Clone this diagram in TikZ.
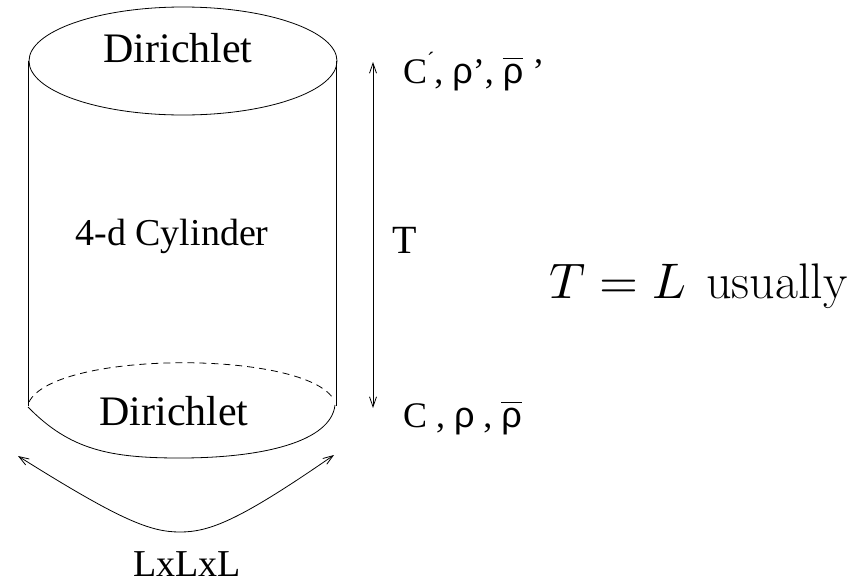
\documentclass[tikz,border=0pt]{standalone}
\usepackage{fontspec}
\usepackage{unicode-math}
\setmainfont{Liberation Serif}
\setmathfont{Latin Modern Math}
\newfontfamily\lmr{Latin Modern Roman}
\newfontfamily\symsans{Liberation Sans}
\usetikzlibrary{arrows.meta}
\begin{document}
\begin{tikzpicture}[x=1pt,y=-1pt, line width=0.8pt,
  barb/.style={{Straight Barb[length=10pt,width=7pt,line width=0.8pt]}-{Straight Barb[length=10pt,width=7pt,line width=0.8pt]}},
  lbl/.style={inner sep=0pt, outer sep=0pt},
  big/.style={lbl, font=\fontsize{42}{42}\selectfont},
  mid/.style={lbl, font=\fontsize{38}{38}\selectfont},
  small/.style={lbl, font=\fontsize{36}{36}\selectfont}]
\useasboundingbox (0,0) rectangle (864,584);
% cylinder
\draw (183,61) ellipse [x radius=154, y radius=54];
\draw (28,61) -- (28,406);
\draw (336,61) -- (336,406);
\draw[dash pattern=on 7pt off 5pt] (29,402) .. controls (55,350) and (307,350) .. (334,400);
\draw (28,407) .. controls (70,450) and (110,458) .. (180,458) .. controls (262,458) and (331,442) .. (335,405);
% texts
\node[big, anchor=base] (dtop) at (178,62) {Dirichlet};
\node[mid, anchor=base] (cyl) at (172,245) {4-d Cylinder};
\node[big, anchor=base] (dbot) at (174,425) {Dirichlet};
\node[mid, anchor=base] (lll) at (187,576) {LxLxL};
% T arrow
\coordinate (ttop) at (373,62);
\coordinate (tbot) at (373,408);
\draw[barb] (tbot) -- (ttop);
\node[lbl, font=\fontsize{40}{40}\selectfont, anchor=base west] (tl) at (392,253) {T};
\node[small, anchor=base west] (cp) at (403,83) {C\raisebox{0.42em}{\fontsize{22}{22}\selectfont ´}, {\symsans ρ}’, $\overline{\hbox{\symsans ρ}}$ ’};
\node[small, anchor=base west] (c) at (403,427) {C , {\symsans ρ} , $\overline{\hbox{\symsans ρ}}$};
% L arrow
\coordinate (la) at (18,456);
\coordinate (ra) at (334,455);
\draw[barb] (la) .. controls (120,520) and (150,532) .. (180,532) .. controls (210,532) and (240,520) .. (ra);
% equation
\node[lbl, anchor=base west, font=\fontsize{50}{50}\selectfont] (eq) at (549,298) {$T=L$\hspace{0.15em} {\lmr usually}};
\end{tikzpicture}
\end{document}
